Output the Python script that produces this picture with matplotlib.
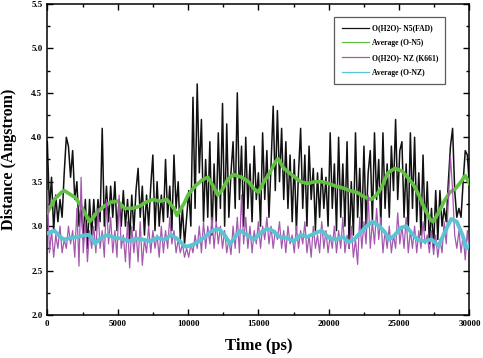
import numpy as np
import matplotlib
matplotlib.use("Agg")
import matplotlib.pyplot as plt
from matplotlib.lines import Line2D
from matplotlib.ticker import MultipleLocator

# raw distances sampled every 150 ps (0 .. 30000)
o_n5 = [
    3.95, 3.2, 3.55, 2.95, 3.35, 3.05, 3.3, 3.1, 3.6, 4.0,
    3.9, 3.55, 3.85, 3.3, 3.5, 3.0, 3.25, 2.85, 3.3, 2.75,
    3.3, 2.9, 3.3, 2.95, 3.3, 3.05, 4.1, 3.0, 3.45, 3.05,
    3.45, 3.1, 3.5, 2.95, 3.3, 3.0, 3.4, 3.0, 3.3, 2.85,
    3.35, 2.95, 3.4, 3.65, 3.1, 3.45, 2.9, 3.35, 3.0, 3.45,
    3.8, 2.95, 3.5, 3.0, 3.35, 3.05, 3.75, 3.1, 3.45, 2.95,
    3.8, 3.2, 3.5, 2.85, 3.2, 2.8, 3.1, 3.4, 3.0, 4.45,
    3.2, 4.6, 3.6, 4.2, 3.05, 3.75, 3.1, 3.95, 2.9, 3.7,
    3.05, 4.05, 3.2, 4.38, 3.0, 4.15, 3.1, 3.6, 3.95, 3.2,
    4.5, 3.3, 3.9, 3.0, 4.0, 3.2, 3.7, 3.05, 3.9, 3.3,
    3.6, 3.0, 4.05, 3.3, 3.85, 3.1, 3.7, 4.35, 3.4, 4.3,
    3.5, 4.1, 3.3, 3.95, 3.2, 3.8, 3.05, 3.75, 2.95, 3.6,
    4.1, 3.2, 3.8, 3.0, 3.9, 3.3, 3.65, 2.95, 3.6, 3.1,
    3.65, 3.2, 3.55, 3.0, 4.05, 3.2, 3.7, 2.95, 4.0, 3.1,
    3.7, 3.0, 3.95, 2.75, 3.5, 2.9, 4.05, 3.1, 3.65, 2.95,
    3.9, 3.0, 3.6, 3.85, 3.05, 4.05, 3.3, 3.75, 3.0, 4.05,
    3.2, 3.7, 3.1, 3.9, 3.4, 4.2, 3.3, 3.85, 3.95, 3.1,
    3.7, 2.95, 4.05, 3.2, 4.0, 3.05, 3.6, 2.9, 3.8, 2.95,
    3.5, 2.8, 3.2, 2.75, 3.4, 2.85, 3.4, 3.0, 3.2, 3.05,
    3.5, 3.9, 4.1, 3.4, 3.1, 3.2, 3.1, 3.5, 3.85, 3.8,
    3.45,
]
o_nz = [
    3.4, 2.7, 2.95, 2.65, 2.9, 2.75, 3.0, 2.7, 2.85, 2.75,
    3.0, 2.8, 2.95, 2.65, 3.2, 2.55, 3.55, 2.7, 3.05, 2.6,
    2.95, 2.75, 3.0, 2.7, 3.2, 2.75, 2.95, 2.65, 3.3, 2.8,
    3.1, 2.7, 2.95, 2.65, 3.35, 2.75, 2.9, 2.6, 3.05, 2.53,
    3.0, 2.7, 2.95, 2.6, 3.05, 2.56, 2.85, 2.7, 3.0, 2.7,
    2.95, 2.75, 2.9, 2.65, 3.0, 2.7, 2.95, 2.75, 3.1, 2.8,
    2.95, 2.7, 2.85, 2.7, 2.8, 2.65, 2.75, 2.65, 2.8, 2.7,
    2.9, 2.75, 3.0, 2.7, 3.05, 2.75, 3.0, 2.8, 3.1, 2.75,
    3.05, 2.8, 3.0, 2.75, 2.95, 2.7, 2.85, 2.68, 3.0, 2.75,
    3.1, 2.7, 3.35, 2.8, 3.1, 2.75, 3.0, 2.7, 2.95, 2.8,
    3.05, 2.75, 3.0, 2.85, 3.1, 2.8, 3.0, 2.75, 2.95, 2.85,
    3.05, 2.75, 2.95, 2.7, 3.0, 2.8, 2.9, 2.7, 3.0, 2.75,
    2.95, 2.8, 3.05, 2.7, 2.9, 2.65, 3.0, 2.75, 2.9, 2.7,
    3.05, 2.75, 2.95, 2.7, 2.9, 2.75, 3.0, 2.7, 2.95, 2.75,
    3.1, 2.7, 2.9, 2.75, 3.0, 2.65, 2.85, 2.57, 3.1, 2.75,
    3.05, 2.8, 3.35, 2.75, 3.05, 2.8, 3.2, 2.85, 3.1, 2.7,
    2.95, 2.75, 3.0, 2.7, 2.9, 2.75, 3.15, 2.8, 3.0, 2.75,
    3.1, 2.7, 2.95, 2.75, 3.0, 2.7, 2.95, 2.75, 3.05, 2.8,
    2.9, 2.7, 2.95, 2.68, 2.9, 2.65, 2.85, 2.7, 3.05, 2.8,
    3.3, 3.78, 3.4, 2.9, 2.75, 2.95, 2.7, 2.9, 2.62, 2.95,
    2.7,
]
step_ps = 150

# running averages
avg_n5_t = [0, 500, 1000, 1200, 2000, 2500, 3000, 3500, 4000, 4500, 5000,
            5500, 6000, 6500, 7000, 7500, 8000, 8500, 9000, 9200, 9700,
            10000, 10500, 11000, 11400, 11800, 12100, 12400, 12800, 13200,
            13800, 14300, 14700, 15000, 15400, 15800, 16200, 16400, 16800,
            17200, 17600, 18000, 18500, 19000, 19500, 20000, 20500, 21000,
            21500, 22000, 22500, 23000, 23400, 23800, 24200, 24700, 25200,
            25600, 26000, 26400, 26800, 27200, 27400, 27800, 28200, 28600,
            29000, 29400, 29700, 30000]
avg_n5 = [3.15, 3.3, 3.38, 3.4, 3.32, 3.2, 3.05, 3.15, 3.22, 3.27, 3.28,
          3.2, 3.2, 3.22, 3.27, 3.3, 3.28, 3.3, 3.2, 3.12, 3.25,
          3.35, 3.45, 3.52, 3.55, 3.45, 3.35, 3.4, 3.52, 3.58,
          3.55, 3.5, 3.42, 3.38, 3.5, 3.6, 3.72, 3.76, 3.65,
          3.6, 3.55, 3.5, 3.48, 3.5, 3.5, 3.48, 3.45, 3.43,
          3.4, 3.38, 3.33, 3.3, 3.35, 3.45, 3.6, 3.65, 3.62,
          3.55, 3.47, 3.35, 3.2, 3.08, 3.05, 3.15, 3.28, 3.38,
          3.42, 3.5, 3.57, 3.48]

avg_nz_t = [0, 500, 900, 1200, 1700, 2200, 2700, 3000, 3400, 3800, 4300,
            4800, 5300, 5800, 6300, 6800, 7300, 7800, 8300, 8800, 9300,
            9800, 10200, 10700, 11200, 11700, 12200, 12600, 13000, 13300,
            13700, 14200, 14700, 15200, 15600, 16000, 16500, 17000, 17500,
            18000, 18500, 19000, 19500, 20000, 20500, 21000, 21400, 21800,
            22200, 22700, 23100, 23600, 24000, 24300, 24700, 25100, 25500,
            25900, 26300, 26800, 27300, 27800, 28300, 28700, 29100, 29500,
            29800, 30000]
avg_nz = [2.92, 2.95, 2.88, 2.85, 2.87, 2.88, 2.9, 2.9, 2.8, 2.87, 2.9,
          2.87, 2.86, 2.83, 2.86, 2.85, 2.83, 2.87, 2.85, 2.9, 2.85,
          2.77, 2.78, 2.82, 2.88, 2.95, 2.97, 2.9, 2.8, 2.87,
          2.95, 2.9, 2.85, 2.93, 2.97, 2.95, 2.88, 2.87, 2.83,
          2.9, 2.88, 2.92, 2.95, 2.87, 2.85, 2.88, 2.82, 2.85,
          2.92, 3.0, 3.05, 3.0, 2.93, 2.85, 2.9, 2.98, 3.0,
          2.92, 2.85, 2.83, 2.85, 2.78, 2.95, 3.08, 3.05, 2.9,
          2.75, 2.78]

labels = ["O(H2O)- N5(FAD)", "Average (O-N5)", "O(H2O)- NZ (K661)", "Average (O-NZ)"]
colors = ["#111111", "#62c043", "#a458ae", "#5cc3d3"]

plt.rcParams['font.family'] = ['Liberation Serif', 'DejaVu Serif']
plt.rcParams['font.weight'] = 'bold'

fig = plt.figure(figsize=(4.83, 3.58), dpi=100)
ax = fig.add_axes([0.098, 0.12, 0.874, 0.869])

t_raw = np.arange(len(o_n5)) * step_ps
t_raw2 = np.arange(len(o_nz)) * step_ps
ax.plot(t_raw, o_n5, color=colors[0], lw=1.1, zorder=2)
ax.plot(avg_n5_t, avg_n5, color=colors[1], lw=2.6, zorder=3)
ax.plot(t_raw2, o_nz, color=colors[2], lw=0.9, zorder=4)
ax.plot(avg_nz_t, avg_nz, color=colors[3], lw=2.8, zorder=5)

ax.set_xlim(0, 30000)
ax.set_ylim(2.0, 5.5)
ax.xaxis.set_major_locator(MultipleLocator(5000))
ax.xaxis.set_minor_locator(MultipleLocator(2500))
ax.yaxis.set_major_locator(MultipleLocator(0.5))
ax.yaxis.set_minor_locator(MultipleLocator(0.25))
ax.tick_params(which='both', direction='in', top=True, right=True,
               labelsize=6.5, width=1)
ax.tick_params(which='major', length=4)
ax.tick_params(which='minor', length=2)
for s in ax.spines.values():
    s.set_linewidth(1.1)

ax.set_xlabel("Time (ps)", fontsize=12, fontweight='bold', labelpad=7)
ax.set_ylabel("Distance (Angstrom)", fontsize=11.5, fontweight='bold', labelpad=10)

handles = [Line2D([], [], color=c, lw=0.9) for c in colors]
leg = ax.legend(handles, labels, loc='upper right', bbox_to_anchor=(0.943, 0.958),
                borderaxespad=0, fontsize=5.5, frameon=True, fancybox=False,
                handlelength=3.6, handletextpad=0.35, borderpad=0.95,
                labelspacing=0.9, edgecolor='#333333')
leg.get_frame().set_linewidth(0.9)

fig.savefig("out.png", dpi=100)
